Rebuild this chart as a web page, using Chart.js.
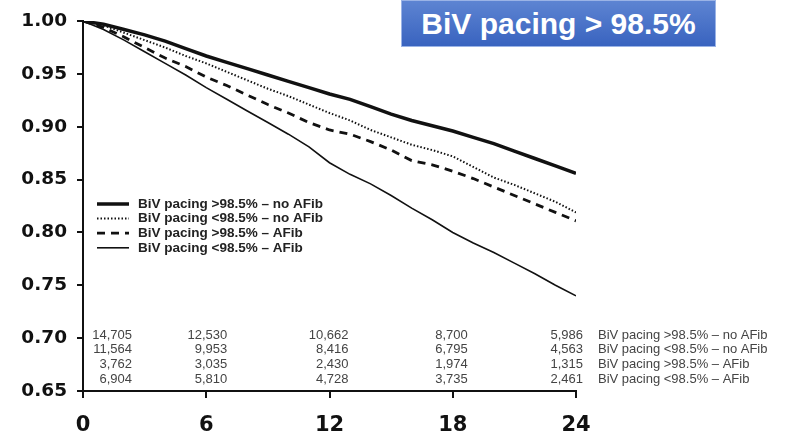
<!DOCTYPE html>
<html>
<head>
<meta charset="utf-8">
<script src="https://cdn.jsdelivr.net/npm/chart.js@4/dist/chart.umd.min.js"></script>
<style>
  html, body { margin: 0; padding: 0; background: #fff; }
  #wrap { position: relative; width: 786px; height: 437px; }
  #badge {
    position: absolute; left: 401px; top: 0; width: 315px; height: 47px;
    background: linear-gradient(#5d84d2, #3963bf);
    border: 1px solid #9ab3e6; box-sizing: border-box;
    color: #fff; font: bold 30px "Liberation Sans", Arial, sans-serif;
    display: flex; align-items: center; justify-content: center;
  }
</style>
</head>
<body>
<div id="wrap">
  <canvas id="km" width="786" height="437"></canvas>
  <div id="badge">BiV pacing &gt; 98.5%</div>
</div>
<script>
// months of follow-up
const months = [0, 1, 2, 3, 4, 5, 6, 7, 8, 9, 10, 11, 12, 13, 14, 15, 16, 17, 18, 19, 20, 21, 22, 23, 24];

// survival estimates per group
const hiNoAf = [1.000, 0.997, 0.992, 0.987, 0.981, 0.974, 0.967, 0.961, 0.955, 0.949, 0.943, 0.937, 0.931, 0.926, 0.919, 0.912, 0.906, 0.901, 0.896, 0.890, 0.884, 0.877, 0.870, 0.863, 0.856];
const loNoAf = [1.000, 0.996, 0.989, 0.982, 0.975, 0.967, 0.960, 0.952, 0.944, 0.936, 0.929, 0.921, 0.913, 0.906, 0.897, 0.890, 0.883, 0.878, 0.872, 0.862, 0.852, 0.845, 0.837, 0.829, 0.819];
const hiAf   = [1.000, 0.994, 0.985, 0.975, 0.965, 0.957, 0.947, 0.939, 0.930, 0.921, 0.913, 0.904, 0.897, 0.893, 0.886, 0.878, 0.868, 0.864, 0.858, 0.851, 0.843, 0.835, 0.827, 0.819, 0.811];
const loAf   = [1.000, 0.992, 0.982, 0.971, 0.960, 0.949, 0.937, 0.926, 0.915, 0.904, 0.893, 0.881, 0.866, 0.855, 0.846, 0.835, 0.823, 0.812, 0.800, 0.790, 0.781, 0.771, 0.761, 0.750, 0.740];

const groupNames = [
  'BiV pacing >98.5% \u2013 no AFib',
  'BiV pacing <98.5% \u2013 no AFib',
  'BiV pacing >98.5% \u2013 AFib',
  'BiV pacing <98.5% \u2013 AFib'
];

// numbers at risk
const riskTimes = [0, 6, 12, 18, 24];
const riskHiNoAf = ['14,705', '12,530', '10,662', '8,700', '5,986'];
const riskLoNoAf = ['11,564', '9,953', '8,416', '6,795', '4,563'];
const riskHiAf   = ['3,762', '3,035', '2,430', '1,974', '1,315'];
const riskLoAf   = ['6,904', '5,810', '4,728', '3,735', '2,461'];
const riskRows = [riskHiNoAf, riskLoNoAf, riskHiAf, riskLoAf];

const INK = '#111';
const toXY = vals => vals.map((v, i) => ({ x: months[i], y: v }));

// legend drawn inside the plot area, using each dataset's own stroke style
const innerLegend = {
  id: 'innerLegend',
  afterDatasetsDraw(chart) {
    const ctx = chart.ctx;
    ctx.save();
    ctx.font = 'bold 13.5px "Liberation Sans", Arial, sans-serif';
    ctx.fillStyle = '#222';
    ctx.textBaseline = 'middle';
    chart.data.datasets.forEach((ds, i) => {
      const y = 204 + i * 14.6;
      ctx.beginPath();
      ctx.strokeStyle = ds.borderColor;
      ctx.lineWidth = ds.borderWidth;
      ctx.setLineDash(ds.borderDash || []);
      ctx.moveTo(97, y);
      ctx.lineTo(129, y);
      ctx.stroke();
      ctx.setLineDash([]);
      ctx.fillText(ds.label, 138, y);
    });
    ctx.restore();
  }
};

// number-at-risk table along the bottom of the plot
const riskTable = {
  id: 'riskTable',
  afterDraw(chart) {
    const ctx = chart.ctx;
    const xs = chart.scales.x;
    const shift = [49, 21, 19, 15, 7];
    ctx.save();
    ctx.font = '13px "Liberation Sans", Arial, sans-serif';
    ctx.fillStyle = '#444';
    ctx.textBaseline = 'middle';
    riskRows.forEach((row, r) => {
      const y = 335 + r * 14.8;
      ctx.textAlign = 'right';
      row.forEach((n, c) => {
        ctx.fillText(n, xs.getPixelForValue(riskTimes[c]) + shift[c], y);
      });
      ctx.textAlign = 'left';
      ctx.fillText(groupNames[r], 598, y);
    });
    ctx.restore();
  }
};

new Chart(document.getElementById('km'), {
  type: 'line',
  data: {
    datasets: [
      { label: groupNames[0], data: toXY(hiNoAf), borderColor: INK, borderWidth: 3.5 },
      { label: groupNames[1], data: toXY(loNoAf), borderColor: INK, borderWidth: 2, borderDash: [1.5, 2] },
      { label: groupNames[2], data: toXY(hiAf), borderColor: INK, borderWidth: 2.8, borderDash: [8, 6] },
      { label: groupNames[3], data: toXY(loAf), borderColor: INK, borderWidth: 1.6 }
    ]
  },
  options: {
    responsive: false,
    animation: false,
    layout: { padding: { top: 20, right: 210, left: 0, bottom: 0 } },
    elements: { point: { radius: 0 }, line: { tension: 0 } },
    plugins: { legend: { display: false }, tooltip: { enabled: false } },
    scales: {
      x: {
        type: 'linear', min: 0, max: 24,
        afterFit: s => { s.height = 46; },
        ticks: {
          stepSize: 6, padding: 15, color: '#111',
          font: { family: '"DejaVu Sans", sans-serif', weight: 'bold', size: 21 }
        },
        grid: { drawOnChartArea: false, tickLength: 7, color: INK, lineWidth: 2 },
        border: { color: INK, width: 2 }
      },
      y: {
        min: 0.65, max: 1.0,
        afterFit: s => { s.width = 83; },
        ticks: {
          stepSize: 0.05, padding: 10, color: '#111',
          font: { family: '"DejaVu Sans", sans-serif', weight: 'bold', size: 18.5 },
          callback: v => v.toFixed(2)
        },
        grid: { drawOnChartArea: false, tickLength: 6, color: INK, lineWidth: 2 },
        border: { color: INK, width: 2 }
      }
    }
  },
  plugins: [innerLegend, riskTable]
});
</script>
</body>
</html>
